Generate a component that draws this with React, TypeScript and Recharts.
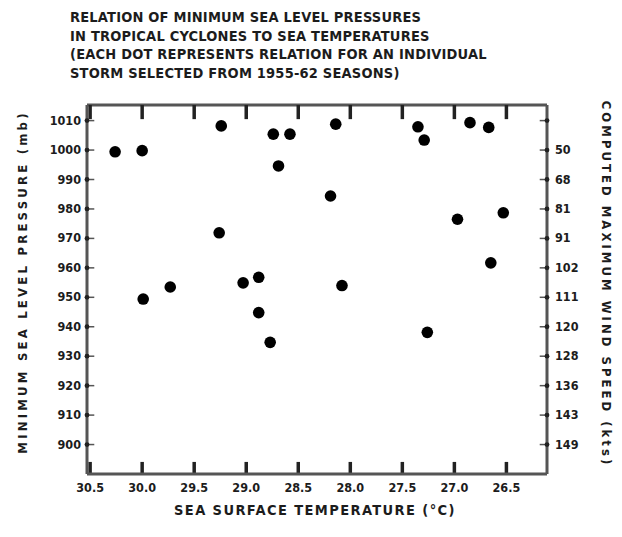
import React from 'react'
import { ScatterChart, Scatter, XAxis, YAxis, ReferenceLine } from 'recharts'

/* ── data ───────────────────────────────────────────────── */
const SEA_TEMP = [
  30.26, 30.0, 29.24, 28.74, 28.58, 28.69, 29.26, 29.73, 29.99, 29.03, 28.88, 28.88,
  28.77, 28.14, 27.35, 27.29, 26.85, 26.67, 28.19, 26.53, 26.97, 26.65, 28.08, 27.26,
]
const MIN_PRESSURE = [
  999.4, 999.8, 1008.2, 1005.4, 1005.4, 994.6, 971.9, 953.5, 949.4, 954.9, 956.8, 944.8,
  934.7, 1008.8, 1007.9, 1003.4, 1009.3, 1007.7, 984.4, 978.7, 976.5, 961.7, 954.0, 938.1,
]
const TEMP_TICKS = [30.5, 30.0, 29.5, 29.0, 28.5, 28.0, 27.5, 27.0, 26.5]
const PRESSURE_TICKS = [1010, 1000, 990, 980, 970, 960, 950, 940, 930, 920, 910, 900]
// right-hand scale: computed max wind (kts) at each pressure level
const WIND_TICKS = [1010, 1000, 990, 980, 970, 960, 950, 940, 930, 920, 910, 900]
const WIND_LABELS = ['', '50', '68', '81', '91', '102', '111', '120', '128', '136', '143', '149']

const TITLE_LINES = [
  'RELATION OF MINIMUM SEA LEVEL PRESSURES',
  'IN TROPICAL CYCLONES TO SEA TEMPERATURES',
  '(EACH DOT REPRESENTS RELATION FOR AN INDIVIDUAL',
  'STORM SELECTED FROM 1955-62 SEASONS)',
]

const storms = SEA_TEMP.map((t, i) => ({ temp: t, pressure: MIN_PRESSURE[i] }))

/* ── styles ─────────────────────────────────────────────── */
const FONT = '"DejaVu Sans Condensed", "DejaVu Sans", sans-serif'
const INK = '#1c1c1c'
const FRAME = '#555'
const TICK_INK = '#222'
const AXIS_LINE = { stroke: FRAME, strokeWidth: 3 }

const X_DOMAIN: [number, number] = [26.11, 30.53]
const Y_DOMAIN: [number, number] = [890, 1015.3]

// inward tick lengths, in data units (≈14px / 12px / 7px on screen)
const TOP_TICK = 4.8
const BOTTOM_TICK = 4.1
const SIDE_TICK = 0.07

function BottomLabel({ x, y, payload }: any) {
  return (
    <text x={x} y={y + 12} textAnchor="middle" fill={INK} fontFamily={FONT} fontWeight="bold" fontSize={12.5}>
      {Number(payload.value).toFixed(1)}
    </text>
  )
}

function LeftLabel({ x, y, payload }: any) {
  return (
    <g>
      <circle cx={x + 5} cy={y} r={2.4} fill={TICK_INK} />
      <text x={x - 1} y={y + 4} textAnchor="end" fill={INK} fontFamily={FONT} fontWeight="bold" fontSize={12.5}>
        {payload.value}
      </text>
    </g>
  )
}

// label of a right-edge tick segment: nub on the frame + wind speed text
function WindLabel({ viewBox, text }: any) {
  if (!viewBox) return null
  const edge = viewBox.x + viewBox.width
  const cy = viewBox.y + viewBox.height / 2
  return (
    <g>
      <circle cx={edge} cy={cy} r={2.4} fill={TICK_INK} />
      <text x={edge + 8} y={cy + 4} textAnchor="start" fill={INK} fontFamily={FONT} fontWeight="bold" fontSize={12.5}>
        {text}
      </text>
    </g>
  )
}

const Dot = ({ cx, cy }: any) => <circle cx={cx} cy={cy} r={5.8} fill="#000" />

const textBase: React.CSSProperties = {
  position: 'absolute',
  fontFamily: FONT,
  fontWeight: 'bold',
  color: INK,
  whiteSpace: 'nowrap',
}

export default function App() {
  const [xMin, xMax] = X_DOMAIN
  const [yMin, yMax] = Y_DOMAIN
  return (
    <div style={{ position: 'absolute', left: 0, top: 0, width: 622, height: 537, background: '#fff' }}>
      <ScatterChart width={622} height={537} margin={{ top: 105, right: 75, bottom: 33, left: 27 }}>
        <XAxis
          xAxisId="b" type="number" dataKey="temp" domain={X_DOMAIN} reversed
          ticks={TEMP_TICKS} interval={0} height={30} tickSize={0} tickMargin={6}
          axisLine={AXIS_LINE} tickLine={false} tick={<BottomLabel />}
        />
        <YAxis
          yAxisId="l" type="number" dataKey="pressure" domain={Y_DOMAIN}
          ticks={PRESSURE_TICKS} interval={0} width={60} tickSize={0} tickMargin={5}
          axisLine={AXIS_LINE} tickLine={false} tick={<LeftLabel />}
        />

        {/* top and right sides of the frame */}
        <ReferenceLine xAxisId="b" yAxisId="l" y={yMax} stroke={FRAME} strokeWidth={3} />
        <ReferenceLine xAxisId="b" yAxisId="l" x={xMin} stroke={FRAME} strokeWidth={3} />

        {TEMP_TICKS.map((t) => (
          <ReferenceLine
            key={`top-${t}`} xAxisId="b" yAxisId="l" stroke={TICK_INK} strokeWidth={3.5}
            segment={[{ x: t, y: yMax }, { x: t, y: yMax - TOP_TICK }]}
          />
        ))}
        {TEMP_TICKS.map((t) => (
          <ReferenceLine
            key={`bot-${t}`} xAxisId="b" yAxisId="l" stroke={TICK_INK} strokeWidth={3.5}
            segment={[{ x: t, y: yMin }, { x: t, y: yMin + BOTTOM_TICK }]}
          />
        ))}
        {PRESSURE_TICKS.map((p) => (
          <ReferenceLine
            key={`left-${p}`} xAxisId="b" yAxisId="l" stroke="#555" strokeWidth={1.5}
            segment={[{ x: xMax, y: p }, { x: xMax - SIDE_TICK, y: p }]}
          />
        ))}
        {WIND_TICKS.map((p, i) => (
          <ReferenceLine
            key={`right-${p}`} xAxisId="b" yAxisId="l" stroke="#555" strokeWidth={1.5}
            segment={[{ x: xMin + SIDE_TICK, y: p }, { x: xMin, y: p }]}
            label={<WindLabel text={WIND_LABELS[i]} />}
          />
        ))}

        <Scatter xAxisId="b" yAxisId="l" data={storms} shape={<Dot />} isAnimationActive={false} />
      </ScatterChart>

      <div style={{ ...textBase, left: 70, top: 8, fontSize: 14.5, lineHeight: '18.5px', letterSpacing: 0.2 }}>
        {TITLE_LINES.map((l) => (
          <div key={l}>{l}</div>
        ))}
      </div>

      <div style={{ ...textBase, left: 0, right: 0, top: 502, textAlign: 'center', fontSize: 14.5, letterSpacing: 1.4, paddingLeft: 8 }}>
        SEA SURFACE TEMPERATURE (°C)
      </div>

      <div
        style={{
          ...textBase, left: 22, top: 282, fontSize: 13, letterSpacing: 3.2,
          transform: 'translate(-50%, -50%) rotate(-90deg)',
        }}
      >
        MINIMUM SEA LEVEL PRESSURE (mb)
      </div>

      <div
        style={{
          ...textBase, left: 606, top: 284, fontSize: 13, letterSpacing: 3.0,
          transform: 'translate(-50%, -50%) rotate(90deg)',
        }}
      >
        COMPUTED MAXIMUM WIND SPEED (kts)
      </div>
    </div>
  )
}
